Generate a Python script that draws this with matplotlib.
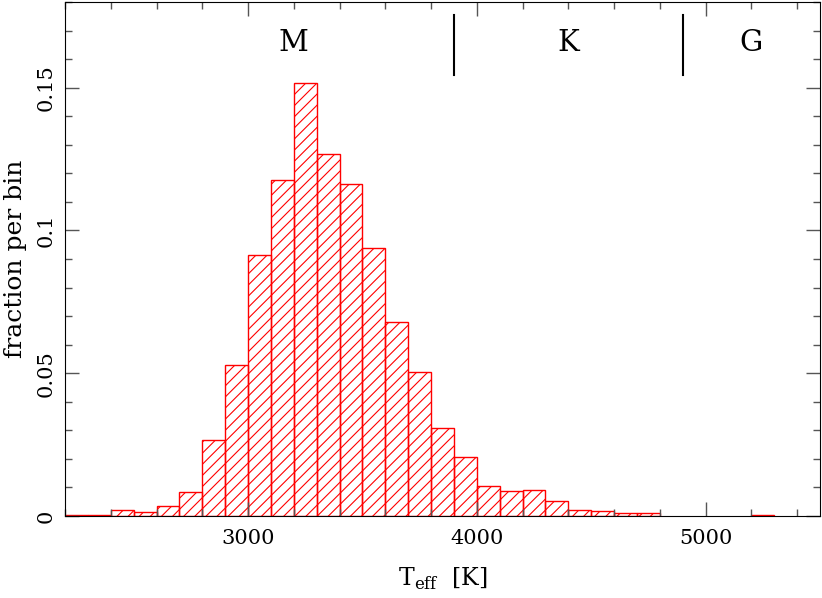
import matplotlib.pyplot as plt
import numpy as np

plt.rcParams['font.family'] = 'DejaVu Serif'
plt.rcParams['hatch.linewidth'] = 0.8

# left bin edges [K] and fraction of stars per 100 K bin
bin_left = [2200, 2300, 2400, 2500, 2600, 2700, 2800, 2900, 3000, 3100,
            3200, 3300, 3400, 3500, 3600, 3700, 3800, 3900, 4000, 4100,
            4200, 4300, 4400, 4500, 4600, 4700, 5200]
fraction = [0.0005, 0.0005, 0.002, 0.0015, 0.0034, 0.0083, 0.0266, 0.053, 0.0913, 0.1175,
            0.1518, 0.1266, 0.1164, 0.094, 0.068, 0.0503, 0.0308, 0.0206, 0.0105, 0.0087,
            0.0092, 0.0052, 0.0022, 0.0016, 0.0012, 0.0012, 0.0004]
bin_width = 100

# spectral class boundaries and labels
class_edges = [3900, 4900]
class_names = ['M', 'K', 'G']
class_pos = [3200, 4400, 5200]

fig = plt.figure(figsize=(8.22, 5.98), dpi=100)
ax = fig.add_axes([0.0791, 0.1371, 0.9185, 0.8596])

ax.bar(bin_left, fraction, width=bin_width, align='edge', fill=False,
       hatch='///', edgecolor='red', linewidth=1.0)

for xe in class_edges:
    ax.plot([xe, xe], [0.1545, 0.1755], color='black', linewidth=1.5)
for name, xp in zip(class_names, class_pos):
    ax.text(xp, 0.1655, name, ha='center', va='center', fontsize=21)

ax.set_xlim(2200, 5500)
ax.set_ylim(0, 0.18)
ax.set_xticks([3000, 4000, 5000])
ax.set_xticks(np.arange(2200, 5501, 200), minor=True)
ax.set_yticks([0, 0.05, 0.1, 0.15])
ax.set_yticklabels(['0', '0.05', '0.1', '0.15'], rotation=90, va='center')
ax.set_yticks(np.arange(0, 0.181, 0.01), minor=True)
ax.tick_params(which='both', direction='in', top=True, right=True, labelsize=15)
ax.tick_params(which='major', length=10, width=1, color='#555555')
ax.tick_params(which='minor', length=5, width=1, color='#555555')
ax.tick_params(axis='x', pad=9)
ax.tick_params(axis='y', pad=7)

ax.set_xlabel(r'T$_{\mathregular{eff}}$  [K]', fontsize=17, labelpad=13)
ax.set_ylabel('fraction per bin', fontsize=18, labelpad=7)

plt.savefig('out.png', dpi=100)
plt.close()
